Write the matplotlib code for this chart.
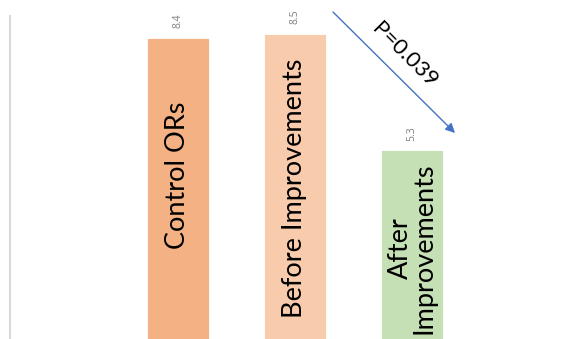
import matplotlib.pyplot as plt

# chart data
categories = ['Control ORs', 'Before Improvements', 'After\nImprovements']
values = [8.4, 8.5, 5.3]
bar_colors = ['#F4B183', '#F8CBAD', '#C5E0B4']
p_label = 'P=0.039'

plt.rcParams['font.family'] = ['Lato', 'DejaVu Sans']

fig = plt.figure(figsize=(5.74, 3.39), dpi=100)
ax = fig.add_axes([10 / 574, -0.0118, 564 / 574, 0.9646])

x = list(range(len(values)))
bars = ax.bar(x, values, width=0.53, color=bar_colors, edgecolor='white', linewidth=0.6)

ax.set_xlim(-1.436, 3.385)
ax.set_ylim(0, 9)

# category names written inside the bars
label_y = [4.62, 4.27, 2.62]
for xi, name, ly in zip(x, categories, label_y):
    ax.text(xi, ly, name, rotation=90, ha='center', va='center',
            fontsize=19.5, color='black', linespacing=0.95)

# value labels above each bar
for xi, v in zip(x, values):
    ax.annotate(f'{v}', (xi, v), xytext=(0, 7), textcoords='offset points',
                rotation=90, ha='center', va='bottom', fontsize=7.5,
                color='#7f7f7f', family='Open Sans')

# significance arrow
ax.annotate('', xy=(2.368, 5.78), xytext=(1.325, 9.11),
            arrowprops=dict(arrowstyle='-|>', color='#4472C4', lw=1.0,
                            mutation_scale=14, shrinkA=0, shrinkB=0),
            annotation_clip=False)
ax.text(1.94, 7.93, p_label, rotation=-45, ha='center', va='center',
        fontsize=16, color='black', rotation_mode='anchor')

for side in ['top', 'right', 'bottom']:
    ax.spines[side].set_visible(False)
ax.spines['left'].set_color('#d9d9d9')
ax.spines['left'].set_linewidth(1.5)
ax.set_xticks([])
ax.set_yticks([])

fig.savefig('out.png', dpi=100)
